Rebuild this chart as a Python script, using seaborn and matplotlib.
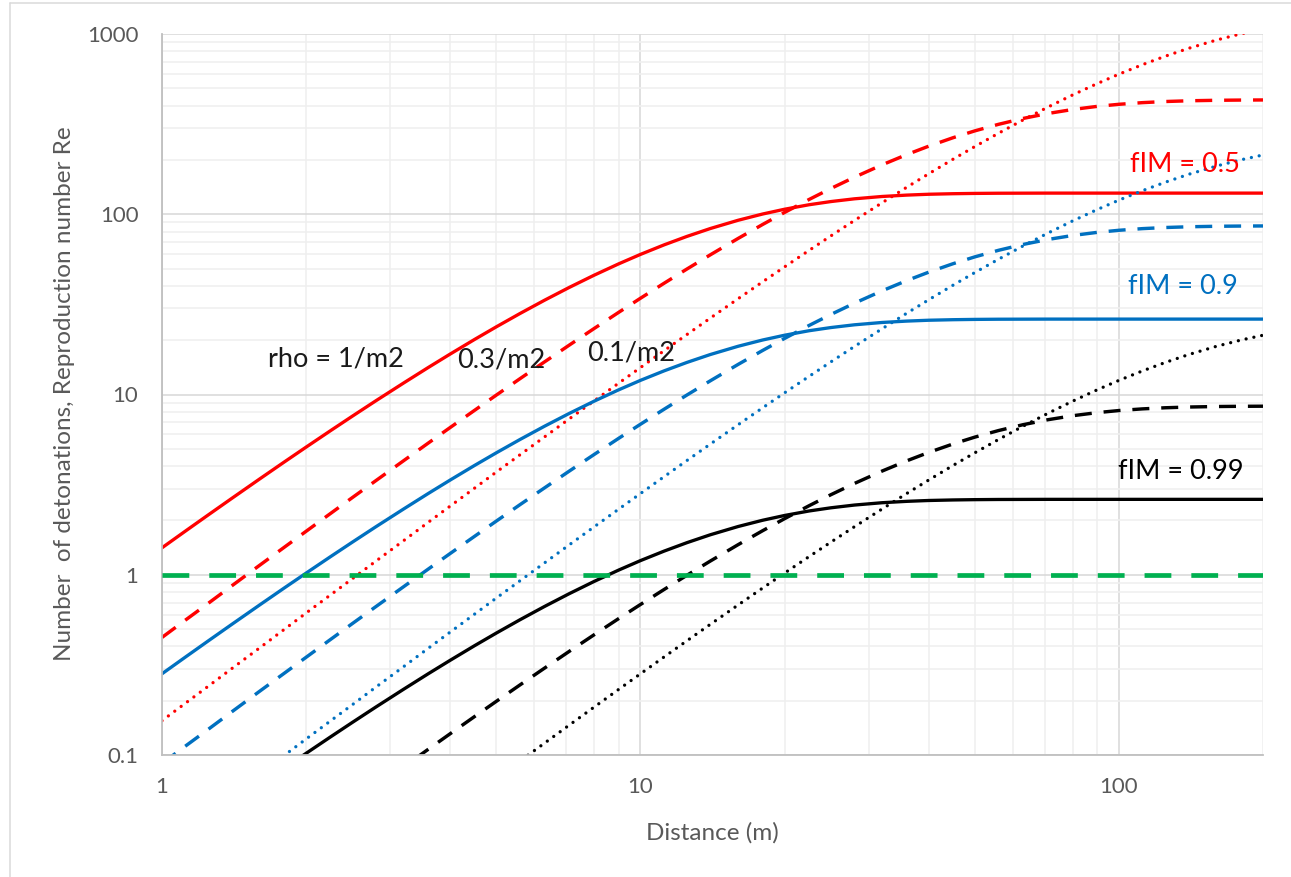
import matplotlib
matplotlib.use("Agg")
import matplotlib.pyplot as plt
from matplotlib.lines import Line2D
from matplotlib.ticker import FixedLocator, FixedFormatter, LogLocator, NullFormatter
import numpy as np
import pandas as pd
import seaborn as sns

# ---- data -------------------------------------------------------------
distance = [1, 1.12, 1.25, 1.4, 1.6, 1.8, 2, 2.25, 2.5, 2.8, 3.2, 3.6, 4, 4.5,
            5, 5.6, 6.3, 7.1, 8, 9, 10, 11.2, 12.5, 14, 16, 18, 20, 22.5, 25,
            28, 32, 36, 40, 45, 50, 56, 63, 71, 80, 90, 100, 112, 125, 140,
            160, 180, 200]

# fIM = 0.5
red_rho_1 = [1.411, 1.749, 2.150, 2.656, 3.400, 4.218, 5.103, 6.299, 7.585,
             9.236, 11.59, 14.11, 16.75, 20.20, 23.76, 28.14, 33.33, 39.28,
             45.90, 53.04, 59.88, 67.61, 75.32, 83.36, 92.61, 100.3, 106.6,
             112.9, 117.6, 121.8, 125.5, 127.7, 129.1, 130.0, 130.5, 130.8,
             130.9, 131.0, 131.0, 131.0, 131.0, 131.0, 131.0, 131.0, 131.0,
             131.0, 131.0]
red_rho_03 = [0.449, 0.561, 0.695, 0.869, 1.129, 1.419, 1.741, 2.187, 2.681,
              3.330, 4.296, 5.373, 6.553, 8.168, 9.936, 12.24, 15.16, 18.80,
              23.23, 28.54, 34.20, 41.40, 49.64, 59.59, 73.44, 87.75, 102.3,
              120.7, 139.0, 160.5, 188.1, 214.2, 238.4, 265.8, 290.2, 315.4,
              339.9, 362.2, 381.2, 396.6, 407.4, 416.1, 422.1, 426.1, 428.8,
              430.0, 430.6]
red_rho_01 = [0.155, 0.194, 0.241, 0.302, 0.393, 0.497, 0.613, 0.773, 0.951,
              1.191, 1.547, 1.953, 2.401, 3.023, 3.718, 4.629, 5.814, 7.328,
              9.219, 11.55, 14.11, 17.49, 21.50, 26.56, 34.00, 42.18, 51.03,
              62.99, 75.85, 92.36, 115.9, 141.1, 167.5, 202.0, 237.6, 281.4,
              333.3, 392.8, 459.0, 530.4, 598.8, 676.1, 753.2, 833.6, 926.1,
              1003.0, 1066.0]

# fIM = 0.9
blue_rho_1 = [0.2822, 0.3498, 0.430, 0.5312, 0.680, 0.8436, 1.0206, 1.2598,
              1.517, 1.8472, 2.318, 2.822, 3.35, 4.04, 4.752, 5.628, 6.666,
              7.856, 9.18, 10.61, 11.98, 13.52, 15.06, 16.67, 18.52, 20.06,
              21.32, 22.58, 23.52, 24.36, 25.10, 25.54, 25.82, 26.00, 26.10,
              26.16, 26.18, 26.2, 26.2, 26.2, 26.2, 26.2, 26.2, 26.2, 26.2,
              26.2, 26.2]
blue_rho_03 = [0.0898, 0.1122, 0.139, 0.1738, 0.2258, 0.2838, 0.3482, 0.4374,
               0.5362, 0.666, 0.8592, 1.0746, 1.3106, 1.6336, 1.9872, 2.448,
               3.032, 3.76, 4.646, 5.708, 6.84, 8.28, 9.928, 11.92, 14.69,
               17.55, 20.46, 24.14, 27.80, 32.10, 37.62, 42.84, 47.68, 53.16,
               58.04, 63.08, 67.98, 72.44, 76.24, 79.32, 81.48, 83.22, 84.42,
               85.22, 85.76, 86.00, 86.12]
blue_rho_01 = [0.031, 0.0388, 0.0482, 0.0604, 0.0786, 0.0994, 0.1226, 0.1546,
               0.1902, 0.2382, 0.3094, 0.3906, 0.4802, 0.6046, 0.7436, 0.9258,
               1.163, 1.466, 1.844, 2.31, 2.822, 3.498, 4.30, 5.312, 6.80,
               8.436, 10.21, 12.60, 15.17, 18.47, 23.18, 28.22, 33.50, 40.40,
               47.52, 56.28, 66.66, 78.56, 91.80, 106.1, 119.8, 135.2, 150.6,
               166.7, 185.2, 200.6, 213.2]

# fIM = 0.99
black_rho_1 = [0.02822, 0.03498, 0.043, 0.05312, 0.068, 0.08436, 0.1021,
               0.126, 0.1517, 0.1847, 0.2318, 0.2822, 0.335, 0.404, 0.4752,
               0.5628, 0.6666, 0.7856, 0.918, 1.061, 1.198, 1.352, 1.506,
               1.667, 1.852, 2.006, 2.132, 2.258, 2.352, 2.436, 2.510, 2.554,
               2.582, 2.600, 2.610, 2.616, 2.618, 2.62, 2.62, 2.62, 2.62, 2.62,
               2.62, 2.62, 2.62, 2.62, 2.62]
black_rho_03 = [0.00898, 0.01122, 0.0139, 0.01738, 0.02258, 0.02838, 0.03482,
                0.04374, 0.05362, 0.0666, 0.08592, 0.1075, 0.1311, 0.1634,
                0.1987, 0.2448, 0.3032, 0.376, 0.4646, 0.5708, 0.684, 0.828,
                0.9928, 1.192, 1.469, 1.755, 2.046, 2.414, 2.780, 3.210, 3.762,
                4.284, 4.768, 5.316, 5.804, 6.308, 6.798, 7.244, 7.624, 7.932,
                8.148, 8.322, 8.442, 8.522, 8.576, 8.600, 8.612]
black_rho_01 = [0.0031, 0.00388, 0.00482, 0.00604, 0.00786, 0.00994, 0.01226,
                0.01546, 0.01902, 0.02382, 0.03094, 0.03906, 0.04802, 0.06046,
                0.07436, 0.09258, 0.1163, 0.1466, 0.1844, 0.231, 0.2822,
                0.3498, 0.430, 0.5312, 0.680, 0.8436, 1.021, 1.260, 1.517,
                1.847, 2.318, 2.822, 3.350, 4.040, 4.752, 5.628, 6.666, 7.856,
                9.180, 10.61, 11.98, 13.52, 15.06, 16.67, 18.52, 20.06, 21.32]

threshold = 1.0

x_ticks = [1, 10, 100]
x_tick_labels = ["1", "10", "100"]
y_ticks = [0.1, 1, 10, 100, 1000]
y_tick_labels = ["0.1", "1", "10", "100", "1000"]

# ---- style ------------------------------------------------------------
sns.set_style("white")
plt.rcParams["font.family"] = ["Lato", "DejaVu Sans"]

RED = "#FF0000"
BLUE = "#0070C0"
BLACK = "#000000"
GREEN = "#00B050"
GREY_TXT = "#595959"

PX = 0.72  # points per pixel at 100 dpi

line_styles = {
    "solid": dict(linestyle="-", linewidth=3.3 * PX, dash_capstyle="butt"),
    "dashed": dict(linestyle=(0, (5.0, 3.5)), linewidth=3.4 * PX, dash_capstyle="butt"),
    "dotted": dict(linestyle=(0, (0.01, 2.4)), linewidth=3.3 * PX, dash_capstyle="round"),
}

series = [
    (red_rho_1, RED, "solid"), (red_rho_03, RED, "dashed"), (red_rho_01, RED, "dotted"),
    (blue_rho_1, BLUE, "solid"), (blue_rho_03, BLUE, "dashed"), (blue_rho_01, BLUE, "dotted"),
    (black_rho_1, BLACK, "solid"), (black_rho_03, BLACK, "dashed"), (black_rho_01, BLACK, "dotted"),
]

fig = plt.figure(figsize=(12.91, 8.77), dpi=100)
ax = fig.add_axes([162 / 1291, 122 / 877, 1101 / 1291, 721 / 877])

ax.set_xscale("log")
ax.set_yscale("log")

for values, color, style in series:
    df = pd.DataFrame({"distance": distance, "value": values})
    sns.lineplot(data=df, x="distance", y="value", color=color, ax=ax,
                 legend=False, sort=False, **line_styles[style])

ax.axhline(threshold, color=GREEN, linewidth=4.7 * PX,
           linestyle=(0, (5.7, 4.25)), dash_capstyle="butt", zorder=3)

ax.set_xlim(1, 200)
ax.set_ylim(0.1, 1000)

# ---- axes, ticks and grid ---------------------------------------------
ax.xaxis.set_major_locator(FixedLocator(x_ticks))
ax.xaxis.set_major_formatter(FixedFormatter(x_tick_labels))
ax.yaxis.set_major_locator(FixedLocator(y_ticks))
ax.yaxis.set_major_formatter(FixedFormatter(y_tick_labels))
ax.xaxis.set_minor_locator(LogLocator(base=10, subs=np.arange(2, 10), numticks=20))
ax.yaxis.set_minor_locator(LogLocator(base=10, subs=np.arange(2, 10), numticks=20))
ax.xaxis.set_minor_formatter(NullFormatter())
ax.yaxis.set_minor_formatter(NullFormatter())

ax.tick_params(which="both", length=0)
ax.tick_params(axis="x", which="major", pad=16, labelsize=16, labelcolor=GREY_TXT)
ax.tick_params(axis="y", which="major", pad=17, labelsize=16, labelcolor=GREY_TXT)

ax.grid(True, which="major", color="#D9D9D9", linewidth=1.6 * PX, zorder=0)
ax.grid(True, which="minor", color="#EFEFEF", linewidth=1.6 * PX, zorder=0)
ax.set_axisbelow(True)

for side in ("top", "right"):
    ax.spines[side].set_visible(False)
for side in ("left", "bottom"):
    ax.spines[side].set_color("#BFBFBF")
    ax.spines[side].set_linewidth(1.8 * PX)

ax.set_xlabel("Distance (m)", fontsize=17.5, color=GREY_TXT, va="center")
ax.xaxis.set_label_coords((712 - 162) / 1101, -(833 - 755) / 721)
ax.set_ylabel("Number  of detonations, Reproduction number Re", fontsize=17.5,
              color=GREY_TXT, va="center")
ax.yaxis.set_label_coords(-(162 - 65) / 1101, (755 - 394) / 721)

# ---- annotations ------------------------------------------------------
ann = dict(fontsize=19.5, ha="left", va="center")
ax.text(1.667, 15.8, "rho = 1/m2", color="#1A1A1A", **ann)
ax.text(4.14, 15.6, "0.3/m2", color="#1A1A1A", **ann)
ax.text(7.75, 17.0, "0.1/m2", color="#1A1A1A", **ann)
ax.text(105.5, 190, "fIM = 0.5", color=RED, **ann)
ax.text(104.5, 39.6, "fIM = 0.9", color=BLUE, **ann)
ax.text(99.5, 3.73, "fIM = 0.99", color=BLACK, **ann)

# chart frame
fig.add_artist(Line2D([10 / 1291, 10 / 1291], [0, 1 - 3 / 877],
                      transform=fig.transFigure, color="#D9D9D9", linewidth=1.5 * PX))
fig.add_artist(Line2D([10 / 1291, 1], [1 - 3 / 877, 1 - 3 / 877],
                      transform=fig.transFigure, color="#D9D9D9", linewidth=1.5 * PX))

fig.savefig("out.png", dpi=100, facecolor="white")
